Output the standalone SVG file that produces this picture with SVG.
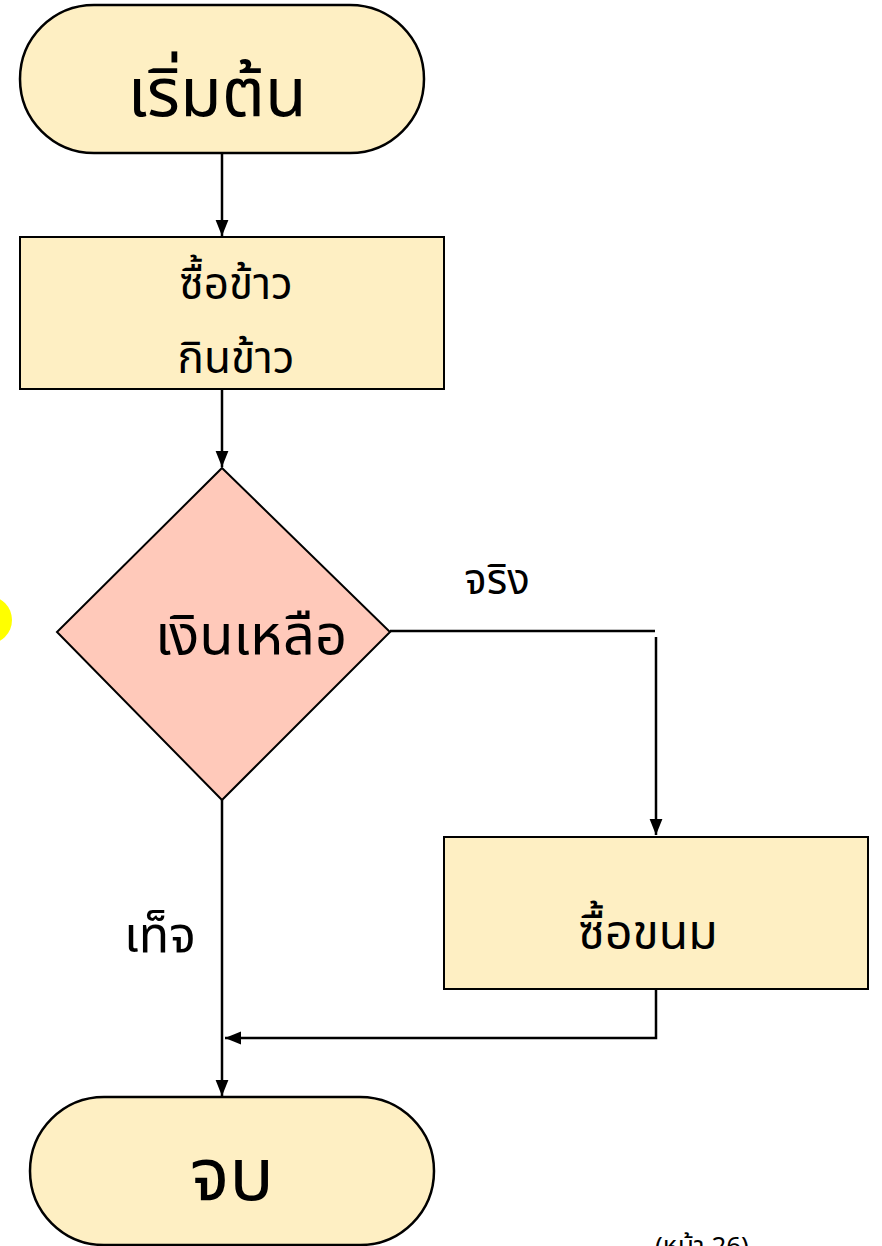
<svg xmlns="http://www.w3.org/2000/svg" width="882" height="1246" viewBox="0 0 882 1246">
<style>
.term{fill:#FEEFC3;stroke:#000;stroke-width:2.5}
.proc{fill:#FEEFC3;stroke:#000;stroke-width:2}
.dec{fill:#FFC9BA;stroke:#000;stroke-width:2}
.t{font-family:"Noto Sans Thai","Noto Sans","Liberation Sans",sans-serif;fill:#000;text-anchor:middle}
.c{fill:none;stroke:#000;stroke-width:2.5}
</style>
<defs>
<marker id="a" viewBox="0 0 10 10" refX="10" refY="5" markerWidth="16" markerHeight="16" orient="auto" markerUnits="userSpaceOnUse">
<path d="M0,1 L10,5 L0,9 z" fill="#000"/>
</marker>
</defs>
<rect width="882" height="1246" fill="#fff"/>
<circle cx="-12" cy="620" r="24" fill="#FFFF00"/>
<g id="connectors">
<path class="c" d="M222,153 V236" marker-end="url(#a)"/>
<path class="c" d="M222,389 V467" marker-end="url(#a)"/>
<path class="c" d="M390,631 H655"/>
<path class="c" d="M656,637 V835" marker-end="url(#a)"/>
<path class="c" d="M656,989 V1038 H225" marker-end="url(#a)"/>
<path class="c" d="M222,800 V1096" marker-end="url(#a)"/>
<text class="t" x="497" y="594" font-size="42">จริง</text>
<text class="t" x="160" y="952" font-size="50">เท็จ</text>
</g>
<g id="start">
<rect class="term" x="20" y="5" width="404" height="148" rx="74"/>
<text class="t" x="217" y="116" font-size="68">เริ่มต้น</text>
</g>
<g id="process1">
<rect class="proc" x="20" y="237" width="424" height="152"/>
<text class="t" x="236" y="299" font-size="44">ซื้อข้าว</text>
<text class="t" x="236" y="373" font-size="44">กินข้าว</text>
</g>
<g id="decision">
<polygon class="dec" points="222,468 390,632 222,800 57,632"/>
<text class="t" x="251" y="654" font-size="56">เงินเหลือ</text>
</g>
<g id="process2">
<rect class="proc" x="444" y="837" width="424" height="152"/>
<text class="t" x="648" y="949" font-size="48">ซื้อขนม</text>
</g>
<g id="end">
<rect class="term" x="30" y="1097" width="404" height="148" rx="74"/>
<text class="t" x="232" y="1200" font-size="74">จบ</text>
</g>
<text class="t" x="702" y="1255" font-size="26">(หน้า 26)</text>
</svg>
